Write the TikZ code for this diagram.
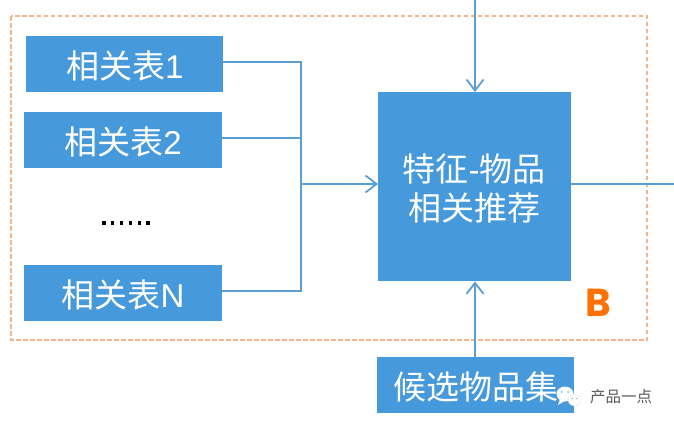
\documentclass[tikz,border=0pt]{standalone}
\usepackage{fontspec}
\setmainfont{Liberation Sans}
\newfontfamily\cjk{Noto Sans CJK SC}
\newfontfamily\heavy{Poppins}
\usetikzlibrary{arrows.meta}
\definecolor{boxblue}{HTML}{4699DB}
\definecolor{lineblue}{HTML}{5A9FD4}
\definecolor{dashorange}{HTML}{F5B58A}
\definecolor{borange}{HTML}{FF7200}
\tikzset{
  bluebox/.style={fill=boxblue,draw=none,text=white,inner sep=0pt,anchor=north west,align=center,font=\fontsize{33}{39}\selectfont,text height=32pt,text depth=3pt},
  conn/.style={draw=lineblue,line width=1.8pt},
  arr/.style={conn,-{Straight Barb[length=11pt,width=17pt,line width=1.8pt]}}
}
\begin{document}
\begin{tikzpicture}[x=1pt,y=-1pt]
\useasboundingbox (0,0) rectangle (674,426);
\fill[white] (0,0) rectangle (674,426);
\draw[dashorange,line width=1.3pt,dash pattern=on 4.5pt off 2.5pt] (11,16) rectangle (647,340);
\node[bluebox,minimum width=197pt,minimum height=56pt] (r1) at (26,36) {{\cjk 相关表}1};
\node[bluebox,minimum width=197.5pt,minimum height=55.5pt] (r2) at (24,112) {{\cjk 相关表}2};
\node[bluebox,minimum width=197.5pt,minimum height=55.5pt] (rn) at (24,265) {{\cjk 相关表}N};
\node[bluebox,minimum width=193pt,minimum height=189pt] (main) at (378,92) {};
\node[text=white,inner sep=0pt,align=center,font=\fontsize{33}{39}\selectfont] (mainlabel) at (474,188.5) {{\cjk 特征}-{\cjk 物品}\\{\cjk 相关推荐}};
\node[bluebox,minimum width=197pt,minimum height=55.5pt] (cand) at (377,357) {\cjk 候选物品集};
\coordinate (bus) at (301,184);
\coordinate (topin) at (475,0);
\coordinate (rightout) at (674,184);
\coordinate (upx) at (475,300);
\draw[conn] (r1.east |- 0,62) -| (bus);
\draw[conn] (r2.east |- 0,138) -| (bus);
\draw[conn] (rn.east |- 0,291) -| (bus);
\draw[arr] (bus) -- (main.west |- bus);
\draw[arr] (topin) -- (topin |- main.north);
\draw[arr] (upx |- cand.north) -- (upx |- main.south);
\draw[conn] (main.east |- bus) -- (rightout);
\node[inner sep=0pt] (dots) at (126,223) {\tikz[x=1pt,y=-1pt]{\foreach \i in {0,...,5}{\fill[black] (\i*8.9,0) rectangle +(3.6,3.6);}}};
\node[inner sep=0pt,text=borange,font=\fontsize{39}{39}\selectfont\heavy\bfseries] (b) at (598,303) {B};
% watermark
\fill[white] (565,394) ellipse (8.5 and 7.5);
\fill[white] (560,399) -- (558,405) -- (566,400) -- cycle;
\fill[white,draw=gray!60,line width=.5pt,dotted] (574.5,400) ellipse (6.5 and 6);
\fill[boxblue!70] (561.5,392) circle (1) (568,392) circle (1);
\fill[gray!60] (572,398.5) circle (.8) (577,398.5) circle (.8);
\node[inner sep=0pt,text=black!65,font=\fontsize{15.5}{16}\selectfont\cjk] (wm) at (621,397) {产品一点};
\end{tikzpicture}
\end{document}
